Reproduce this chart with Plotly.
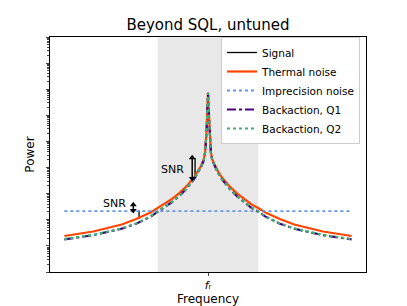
import plotly.graph_objects as go

# Frequency relative to resonance (f_r = 0)
freq = [-1.0, -0.8, -0.6, -0.5, -0.4, -0.35, -0.3, -0.25, -0.2, -0.15, -0.1, -0.07, -0.05,
        -0.03, -0.02, -0.01, -0.004, 0.0, 0.004, 0.01, 0.02, 0.03, 0.05, 0.07, 0.1, 0.15,
        0.2, 0.25, 0.3, 0.35, 0.4, 0.5, 0.6, 0.8, 1.0]
# log10 of power
thermal_log = [1.38, 1.55, 1.82, 2.03, 2.28, 2.45, 2.60, 2.80, 3.02, 3.28, 3.60, 3.85, 4.05,
               4.30, 4.60, 5.40, 6.30, 6.86, 6.30, 5.40, 4.60, 4.30, 4.05, 3.85, 3.60, 3.28,
               3.02, 2.80, 2.60, 2.45, 2.28, 2.03, 1.82, 1.55, 1.38]
back_q1_log = [1.25, 1.41, 1.66, 1.85, 2.12, 2.31, 2.47, 2.68, 2.91, 3.19, 3.53, 3.79, 4.00,
               4.26, 4.57, 5.38, 6.29, 6.86, 6.29, 5.38, 4.57, 4.26, 4.00, 3.79, 3.53, 3.19,
               2.91, 2.68, 2.47, 2.31, 2.12, 1.85, 1.66, 1.41, 1.25]
back_q2_log = [1.26, 1.42, 1.67, 1.86, 2.13, 2.32, 2.48, 2.69, 2.92, 3.20, 3.54, 3.80, 4.01,
               4.27, 4.58, 5.39, 6.29, 6.86, 6.29, 5.39, 4.58, 4.27, 4.01, 3.80, 3.54, 3.20,
               2.92, 2.69, 2.48, 2.32, 2.13, 1.86, 1.67, 1.42, 1.26]
imprecision_freq = [-1.0, 1.0]
imprecision_log = [2.33, 2.33]

# Signal: two short vertical spikes
signal_freq = [-0.48, -0.48, None, -0.09, -0.09]
signal_log = [2.03, 2.36, None, 3.60, 4.37]

# SNR double arrows: frequency, log low end, log high end
snr_arrow_freq = [-0.52, -0.11]
snr_arrow_lo = [2.36, 3.58]
snr_arrow_hi = [2.58, 4.38]
snr_text_freq = [-0.65, -0.245]
snr_text_log = [2.62, 3.92]

band = [-0.35, 0.35]
y_range_log = [0, 9]

fig = go.Figure()
fig.add_shape(type="rect", xref="x", yref="paper", x0=band[0], x1=band[1], y0=0, y1=1,
              fillcolor="#e8e8e8", line=dict(width=0), layer="below")

fig.add_trace(go.Scatter(x=signal_freq, y=[None if v is None else 10**v for v in signal_log],
                         mode="lines", name="Signal", line=dict(color="black", width=1.3),
                         connectgaps=False))
fig.add_trace(go.Scatter(x=freq, y=[10**v for v in thermal_log], mode="lines",
                         name="Thermal noise", line=dict(color="#FF4500", width=2.2)))
fig.add_trace(go.Scatter(x=imprecision_freq, y=[10**v for v in imprecision_log], mode="lines",
                         name="Imprecision noise", line=dict(color="#6495ED", width=1.8, dash="dot")))
fig.add_trace(go.Scatter(x=freq, y=[10**v for v in back_q1_log], mode="lines",
                         name="Backaction, Q1", line=dict(color="#4B0082", width=2.2, dash="dashdot")))
fig.add_trace(go.Scatter(x=freq, y=[10**v for v in back_q2_log], mode="lines",
                         name="Backaction, Q2", line=dict(color="#3CB371", width=2.2, dash="dot")))

# SNR arrows drawn as line + triangle heads
for fx, lo, hi in zip(snr_arrow_freq, snr_arrow_lo, snr_arrow_hi):
    fig.add_trace(go.Scatter(x=[fx, fx], y=[10**lo, 10**hi], mode="lines+markers",
                             showlegend=False, hoverinfo="skip",
                             line=dict(color="black", width=1.5),
                             marker=dict(symbol=["triangle-down", "triangle-up"], size=6,
                                         color="black")))
for fx, fy in zip(snr_text_freq, snr_text_log):
    fig.add_annotation(x=fx, y=fy, xref="x", yref="y", text="SNR", showarrow=False,
                       font=dict(size=11, color="black", family="DejaVu Sans"))

# page body has an 8px margin, so the figure is drawn 8px in from the window corner
fig.update_layout(
    width=399, height=298,
    margin=dict(l=42, r=41, t=29, b=34),
    plot_bgcolor="white", paper_bgcolor="white",
    font=dict(family="DejaVu Sans", color="black"),
    title=dict(text="Beyond SQL, untuned", xref="paper", x=0.5, xanchor="center",
               y=0.943, yanchor="middle", font=dict(size=15)),
    legend=dict(x=0.981, y=1.0, xanchor="right", yanchor="top", bgcolor="white",
                bordercolor="#cccccc", borderwidth=1, font=dict(size=10.5),
                tracegroupgap=0, itemwidth=30),
    showlegend=True,
)
fig.update_xaxes(range=[-1.1, 1.1], showgrid=False, zeroline=False, showline=True, mirror=True,
                 linecolor="black", linewidth=1, ticks="outside", ticklen=3, automargin=False,
                 tickvals=[0], ticktext=["<i>f</i>ᵣ"], tickfont=dict(size=11),
                 title=dict(text="Frequency", font=dict(size=12), standoff=4))
fig.update_yaxes(type="log", range=y_range_log, showgrid=False, zeroline=False, showline=True,
                 mirror=True, linecolor="black", linewidth=1, ticks="outside", ticklen=3.5,
                 dtick=1, showticklabels=False, automargin=False,
                 minor=dict(ticks="outside", ticklen=2, dtick="D1", showgrid=False),
                 title=dict(text="Power", font=dict(size=12), standoff=8))

fig.write_html("out.html")
